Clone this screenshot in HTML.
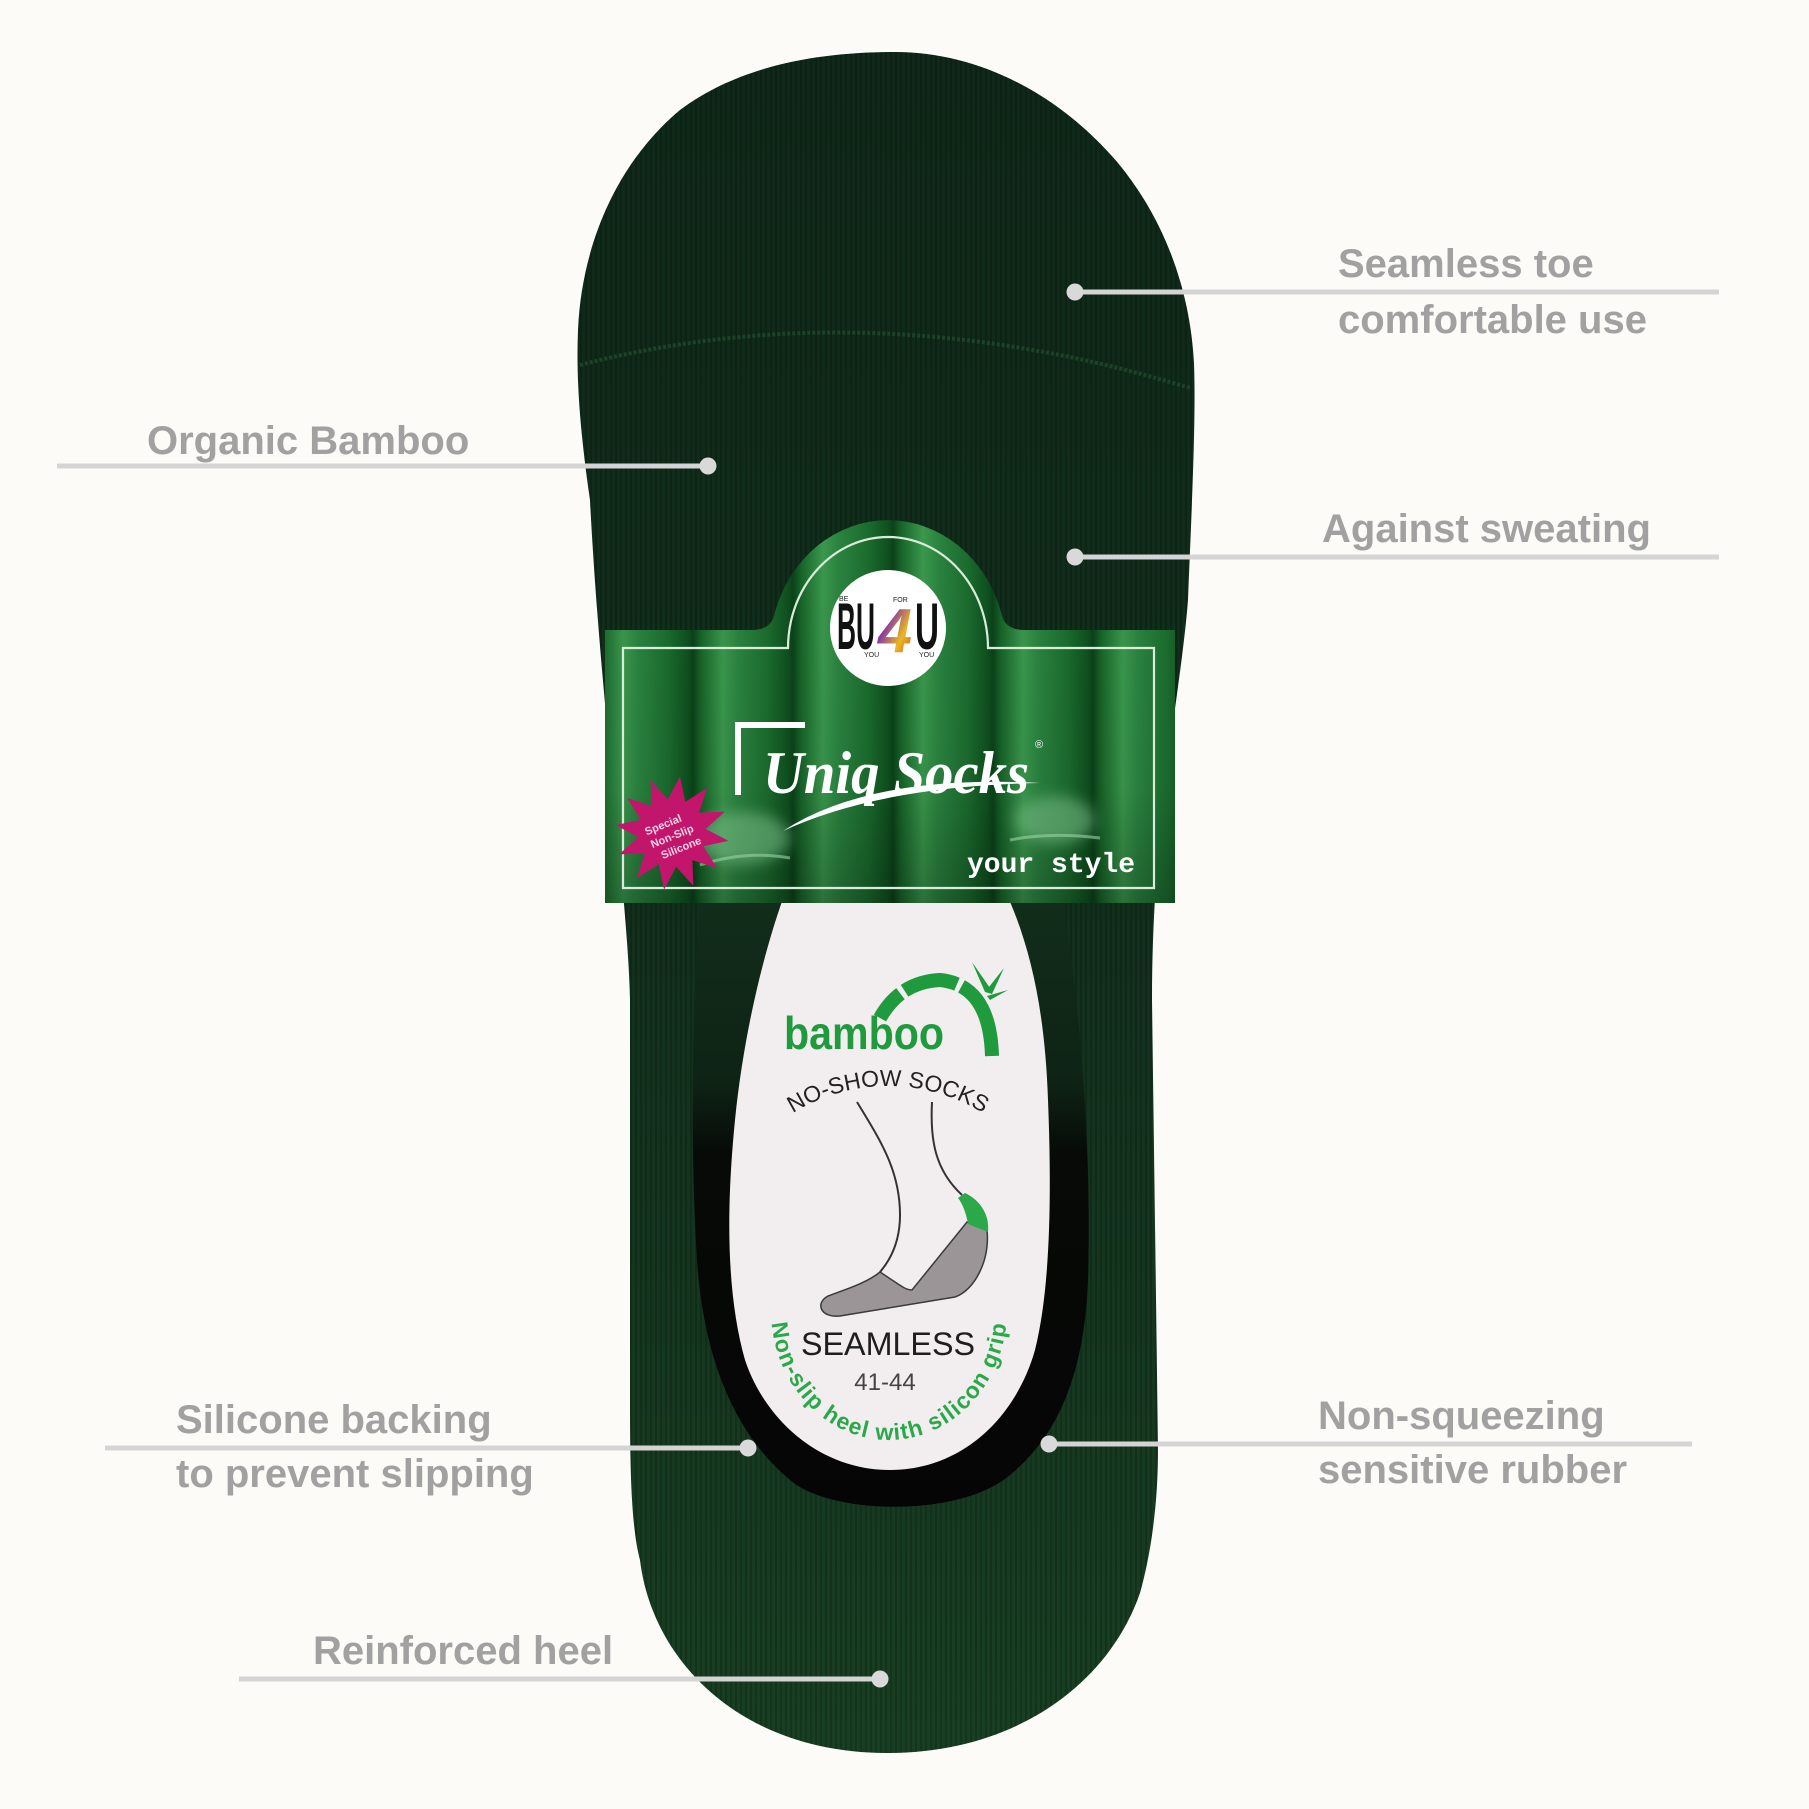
<!DOCTYPE html>
<html>
<head>
<meta charset="utf-8">
<style>
  html,body{margin:0;padding:0;background:#fcfbf8;}
  svg{display:block;}
  .lbl{font-family:"Liberation Sans",Arial,sans-serif;font-weight:bold;font-size:40px;fill:#a1a1a1;}
</style>
</head>
<body>
<svg width="1809" height="1809" viewBox="0 0 1809 1809" xmlns="http://www.w3.org/2000/svg">
  <defs>
    <linearGradient id="sockg" x1="0" y1="0" x2="0" y2="1">
      <stop offset="0" stop-color="#0f2819"/>
      <stop offset="0.5" stop-color="#122f1c"/>
      <stop offset="1" stop-color="#183f23"/>
    </linearGradient>
    <pattern id="rib" width="5" height="10" patternUnits="userSpaceOnUse">
      <rect width="2" height="10" fill="#000" opacity="0.18"/>
    </pattern>
    <linearGradient id="bam" gradientUnits="userSpaceOnUse" x1="693" y1="0" x2="793" y2="0" spreadMethod="repeat">
      <stop offset="0" stop-color="#0b4219"/>
      <stop offset="0.08" stop-color="#176429"/>
      <stop offset="0.3" stop-color="#3a984d"/>
      <stop offset="0.45" stop-color="#2b8440"/>
      <stop offset="0.75" stop-color="#1b6c2e"/>
      <stop offset="0.95" stop-color="#0f501f"/>
      <stop offset="1" stop-color="#0b4219"/>
    </linearGradient>
    <linearGradient id="bamv" x1="0" y1="0" x2="0" y2="1">
      <stop offset="0" stop-color="#000" stop-opacity="0"/>
      <stop offset="0.7" stop-color="#000" stop-opacity="0.05"/>
      <stop offset="1" stop-color="#000" stop-opacity="0.25"/>
    </linearGradient>
    <linearGradient id="openg" x1="0" y1="0" x2="0" y2="1">
      <stop offset="0" stop-color="#122d1b"/>
      <stop offset="0.3" stop-color="#0e2315"/>
      <stop offset="0.42" stop-color="#070a07"/>
      <stop offset="1" stop-color="#050505"/>
    </linearGradient>
    <linearGradient id="four" x1="0" y1="0" x2="1" y2="1">
      <stop offset="0" stop-color="#1d55b5"/>
      <stop offset="0.35" stop-color="#8b3aa0"/>
      <stop offset="0.65" stop-color="#e9b820"/>
      <stop offset="1" stop-color="#d2332f"/>
    </linearGradient>
    <filter id="blur" x="-50%" y="-50%" width="200%" height="200%"><feGaussianBlur stdDeviation="7"/></filter>
    <path id="arcTop" d="M 708 1266 A 180 180 0 0 1 1068 1266"/>
    <path id="arcBot" d="M 772.4 1290 A 118 130 0 1 0 1005.6 1290"/>
  </defs>

  <rect width="1809" height="1809" fill="#fcfbf8"/>

  <!-- Sock body -->
  <g>
  <path id="sockp" d="M 895 52
    C 980 52, 1060 95, 1118 163
    C 1165 220, 1190 290, 1194 363
    C 1196 420, 1192 500, 1188 600
    C 1180 700, 1152 820, 1152 1000
    L 1158 1450
    C 1158 1500, 1152 1550, 1140 1593
    C 1110 1680, 1020 1753, 887 1753
    C 740 1753, 652 1660, 640 1560
    C 632 1530, 630 1480, 630 1400
    L 630 1000
    C 628 900, 600 700, 590 500
    C 580 430, 576 380, 578 330
    C 582 240, 620 160, 680 110
    C 740 65, 820 52, 895 52 Z" fill="url(#sockg)"/>
  <path d="M 895 52
    C 980 52, 1060 95, 1118 163
    C 1165 220, 1190 290, 1194 363
    C 1196 420, 1192 500, 1188 600
    C 1180 700, 1152 820, 1152 1000
    L 1158 1450
    C 1158 1500, 1152 1550, 1140 1593
    C 1110 1680, 1020 1753, 887 1753
    C 740 1753, 652 1660, 640 1560
    C 632 1530, 630 1480, 630 1400
    L 630 1000
    C 628 900, 600 700, 590 500
    C 580 430, 576 380, 578 330
    C 582 240, 620 160, 680 110
    C 740 65, 820 52, 895 52 Z" fill="url(#rib)"/>
  </g>
  <!-- welt seam -->
  <path d="M 580 365 Q 870 290 1190 388" fill="none" stroke="#1d4228" stroke-width="4" stroke-dasharray="3 2"/>

  <!-- sock opening -->
  <path d="M 700 900 C 692 1000, 690 1150, 697 1260 C 703 1350, 730 1430, 790 1480 C 830 1515, 960 1518, 1010 1475 C 1065 1430, 1085 1360, 1088 1280 C 1092 1150, 1080 1000, 1062 900 Z" fill="url(#openg)"/>

  <!-- insole card -->
  <path d="M 790 880 C 770 930, 745 1020, 735 1120 C 725 1220, 728 1300, 745 1360 C 765 1420, 820 1470, 890 1470 C 960 1470, 1015 1420, 1035 1350 C 1050 1290, 1052 1200, 1048 1100 C 1045 1010, 1030 940, 1000 880 Z" fill="#f2eeef"/>

  <!-- bamboo logo -->
  <text x="784" y="1049" font-family="Liberation Sans, sans-serif" font-weight="bold" font-size="46" fill="#1f9a3c" textLength="160" lengthAdjust="spacingAndGlyphs">bamboo</text>
  <path d="M 880 1018 Q 900 982 940 980 Q 990 985 992 1056" fill="none" stroke="#1f9a3c" stroke-width="14" stroke-dasharray="32 5 55 5 200"/>
  <g fill="#1f9a3c">
    <path d="M 985 992 L 972 962 L 990 988 Z"/>
    <path d="M 985 992 L 1004 968 L 992 994 Z"/>
    <path d="M 987 996 L 1008 990 L 990 1000 Z"/>
  </g>
  <text font-family="Liberation Sans, sans-serif" font-size="23" fill="#222"><textPath href="#arcTop" startOffset="50%" text-anchor="middle">NO-SHOW SOCKS</textPath></text>

  <!-- foot drawing -->
  <path d="M 880 1272 C 900 1285, 905 1290, 912 1290 L 967 1222 L 987 1230 C 990 1260, 975 1290, 955 1297 L 840 1316 C 820 1318, 815 1303, 828 1296 C 850 1288, 868 1282, 880 1272 Z" fill="#9b9598" stroke="#3a3a3a" stroke-width="1.5"/>
  <path d="M 965 1193 C 980 1200, 990 1215, 988 1232 L 968 1224 C 966 1212, 962 1203, 958 1198 Z" fill="#2aa84a"/>
  <path d="M 857 1102 C 880 1140, 900 1170, 900 1215 C 900 1240, 892 1258, 880 1272" fill="none" stroke="#333" stroke-width="2"/>
  <path d="M 932 1102 C 930 1140, 935 1170, 962 1195" fill="none" stroke="#333" stroke-width="2"/>

  <text x="801" y="1355" font-family="Liberation Sans, sans-serif" font-size="32" fill="#1e1e1e" textLength="174" lengthAdjust="spacingAndGlyphs">SEAMLESS</text>
  <text x="885" y="1390" font-family="Liberation Sans, sans-serif" font-size="24" fill="#444" text-anchor="middle">41-44</text>
  <text font-family="Liberation Sans, sans-serif" font-weight="bold" font-size="23" fill="#2aa84a" letter-spacing="1.2"><textPath href="#arcBot" startOffset="50%" text-anchor="middle">Non-slip heel with silicon grip</textPath></text>

  <!-- Label band -->
  <path d="M 605 630 L 752 630 Q 772 630 775 612 A 118 129 0 0 1 1001 612 Q 1004 630 1024 630 L 1175 630 L 1175 903 L 605 903 Z" fill="url(#bam)"/>
  <path d="M 605 630 L 752 630 Q 772 630 775 612 A 118 129 0 0 1 1001 612 Q 1004 630 1024 630 L 1175 630 L 1175 903 L 605 903 Z" fill="url(#bamv)"/>
  <!-- blurred shoe images -->
  <g filter="url(#blur)" opacity="0.55">
    <ellipse cx="742" cy="838" rx="48" ry="26" fill="#7cc08a"/>
    <ellipse cx="1055" cy="820" rx="40" ry="24" fill="#7cc08a"/>
  </g>
  <path d="M 700 865 Q 745 850 790 858" fill="none" stroke="#9bd3a5" stroke-width="3" opacity="0.6"/>
  <path d="M 1010 840 Q 1050 832 1100 838" fill="none" stroke="#9bd3a5" stroke-width="3" opacity="0.6"/>

  <!-- inner border -->
  <path d="M 623 888 L 623 648 L 788 648 A 100 111 0 0 1 988 648 L 1154 648 L 1154 888 Z" fill="none" stroke="#d9ecd9" stroke-width="2.2"/>

  <!-- BU4U logo -->
  <circle cx="888" cy="628" r="58" fill="#ffffff"/>
  <text x="837" y="649" font-family="Liberation Sans, sans-serif" font-weight="bold" font-size="66" fill="#111" textLength="38" lengthAdjust="spacingAndGlyphs">BU</text>
  <text x="878" y="652" font-family="Liberation Sans, sans-serif" font-weight="bold" font-style="italic" font-size="62" fill="url(#four)" textLength="34" lengthAdjust="spacingAndGlyphs">4</text>
  <text x="915" y="649" font-family="Liberation Sans, sans-serif" font-weight="bold" font-size="66" fill="#111" textLength="24" lengthAdjust="spacingAndGlyphs">U</text>
  <g font-family="Liberation Sans, sans-serif" font-size="7" fill="#222">
    <text x="839" y="601">BE</text>
    <text x="893" y="602">FOR</text>
    <text x="864" y="657">YOU</text>
    <text x="919" y="657">YOU</text>
  </g>

  <!-- Uniq Socks -->
  <path d="M 738 795 L 738 725 L 805 725" fill="none" stroke="#ffffff" stroke-width="6"/>
  <text x="763" y="793" font-family="Liberation Serif, serif" font-style="italic" font-weight="bold" font-size="60" fill="#ffffff" textLength="266" lengthAdjust="spacingAndGlyphs">Uniq Socks</text>
  <text x="1035" y="748" font-family="Liberation Sans, sans-serif" font-size="11" fill="#ffffff">®</text>
  <path d="M 783 831 Q 870 774 1040 783 Q 880 786 783 831 Z" fill="#ffffff"/>
  <text x="967" y="872" font-family="Liberation Mono, monospace" font-weight="bold" font-size="28" fill="#ffffff">your style</text>

  <!-- starburst -->
  <g transform="translate(672 833) rotate(8)">
    <polygon points="0,-57 8.8,-32.8 28.5,-49.4 24,-24 49.4,-28.5 32.8,-8.8 57,0 32.8,8.8 49.4,28.5 24,24 28.5,49.4 8.8,32.8 0,57 -8.8,32.8 -28.5,49.4 -24,24 -49.4,28.5 -32.8,8.8 -57,0 -32.8,-8.8 -49.4,-28.5 -24,-24 -28.5,-49.4 -8.8,-32.8" fill="#c2166d"/>
  </g>
  <g transform="translate(672 836) rotate(-22)" font-family="Liberation Sans, sans-serif" font-weight="bold" font-size="11" fill="#f8d2e4" text-anchor="middle">
    <text x="-4" y="-10">Special</text>
    <text x="0" y="4">Non-Slip</text>
    <text x="4" y="18">Silicone</text>
  </g>

  <!-- Callout lines & dots -->
  <g stroke="#d4d4d4" stroke-width="5">
    <line x1="1075" y1="292" x2="1719" y2="292"/>
    <line x1="57" y1="466" x2="708" y2="466"/>
    <line x1="1075" y1="557" x2="1719" y2="557"/>
    <line x1="105" y1="1448" x2="748" y2="1448"/>
    <line x1="1049" y1="1444" x2="1692" y2="1444"/>
    <line x1="239" y1="1679" x2="880" y2="1679"/>
  </g>
  <g fill="#d9d9d9">
    <circle cx="1075" cy="292" r="8.5"/>
    <circle cx="708" cy="466" r="8.5"/>
    <circle cx="1075" cy="557" r="8.5"/>
    <circle cx="748" cy="1448" r="8.5"/>
    <circle cx="1049" cy="1444" r="8.5"/>
    <circle cx="880" cy="1679" r="8.5"/>
  </g>

  <!-- Callout labels -->
  <text class="lbl" x="1338" y="277">Seamless toe</text>
  <text class="lbl" x="1338" y="333">comfortable use</text>
  <text class="lbl" x="147" y="454">Organic Bamboo</text>
  <text class="lbl" x="1322" y="542">Against sweating</text>
  <text class="lbl" x="176" y="1433">Silicone backing</text>
  <text class="lbl" x="176" y="1487">to prevent slipping</text>
  <text class="lbl" x="1318" y="1429">Non-squeezing</text>
  <text class="lbl" x="1318" y="1483">sensitive rubber</text>
  <text class="lbl" x="313" y="1664">Reinforced heel</text>
</svg>
</body>
</html>
